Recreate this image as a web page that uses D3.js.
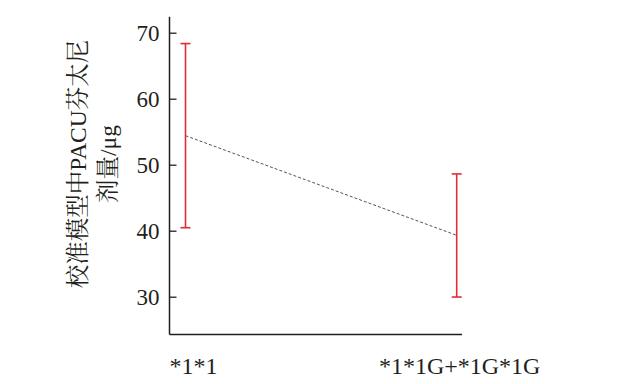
<!DOCTYPE html>
<html><head><meta charset="utf-8">
<script src="https://cdn.jsdelivr.net/npm/d3@7"></script>
<style>body{margin:0;background:#fff}</style>
</head><body>
<svg id="c" width="630" height="384"></svg>
<script>
const categories = ["*1*1", "*1*1G+*1G*1G"];
const means = [54.4, 39.3];
const lower = [40.45, 29.95];
const upper = [68.35, 48.6];
const yTicks = [30, 40, 50, 60, 70];
const yTitle = ["校准模型中PACU芬太尼", "剂量/μg"];

const svg = d3.select("#c");
const x0 = 169.5, x1 = 462;
const y = d3.scaleLinear().domain([30, 70]).range([296.7, 32.7]);
const x = d3.scalePoint().domain(categories).range([185.5, 456.7]);
const font = "'Liberation Serif','Times New Roman','Noto Serif CJK SC','Noto Sans CJK SC',serif";
const axisColor = "#231f20";

// y axis
const yAxis = d3.axisRight(y).tickValues(yTicks).tickSize(7).tickFormat(d3.format("d"));
const gy = svg.append("g").attr("transform", `translate(${x0},0)`).call(yAxis);
gy.select(".domain").remove();
gy.selectAll(".tick line").attr("stroke", axisColor).attr("stroke-width", 1.3);
gy.selectAll(".tick text").attr("x", -10).attr("text-anchor", "end")
  .attr("font-family", font).attr("font-size", 23).attr("fill", axisColor).attr("dy", "0.33em");

// axis lines
svg.append("line").attr("x1", x0).attr("x2", x0).attr("y1", y(72.4)).attr("y2", 334.5)
  .attr("stroke", axisColor).attr("stroke-width", 1.5);
svg.append("line").attr("x1", x0).attr("x2", x1).attr("y1", 334.5).attr("y2", 334.5)
  .attr("stroke", axisColor).attr("stroke-width", 1.5);

// x labels
svg.selectAll(".xl").data(categories).enter().append("text")
  .attr("x", (d, i) => x(d) + (i === 0 ? 8 : 3)).attr("y", 374)
  .attr("text-anchor", "middle").attr("font-family", font).attr("font-size", 24)
  .attr("fill", axisColor).text(d => d);

// dashed line through means
const line = d3.line().x((d, i) => x(categories[i])).y(d => y(d));
svg.append("path").datum(means).attr("d", line).attr("fill", "none")
  .attr("stroke", "#555").attr("stroke-width", 1).attr("stroke-dasharray", "3,2");

// error bars
const red = "#e42b35";
categories.forEach((c, i) => {
  const cx = x(c);
  svg.append("line").attr("x1", cx).attr("x2", cx).attr("y1", y(upper[i])).attr("y2", y(lower[i]))
    .attr("stroke", red).attr("stroke-width", 1.6);
  [upper[i], lower[i]].forEach(v => {
    svg.append("line").attr("x1", cx - 5).attr("x2", cx + 5).attr("y1", y(v)).attr("y2", y(v))
      .attr("stroke", red).attr("stroke-width", 1.6);
  });
});

// y title
const t = svg.append("text").attr("transform", "translate(0,164) rotate(-90)")
  .attr("text-anchor", "middle").attr("font-family", font).attr("font-size", 23.5).attr("fill", axisColor);
t.append("tspan").attr("x", 0).attr("y", 86).text(yTitle[0]);
t.append("tspan").attr("x", 0).attr("y", 116).text(yTitle[1]);
</script>
</body></html>
